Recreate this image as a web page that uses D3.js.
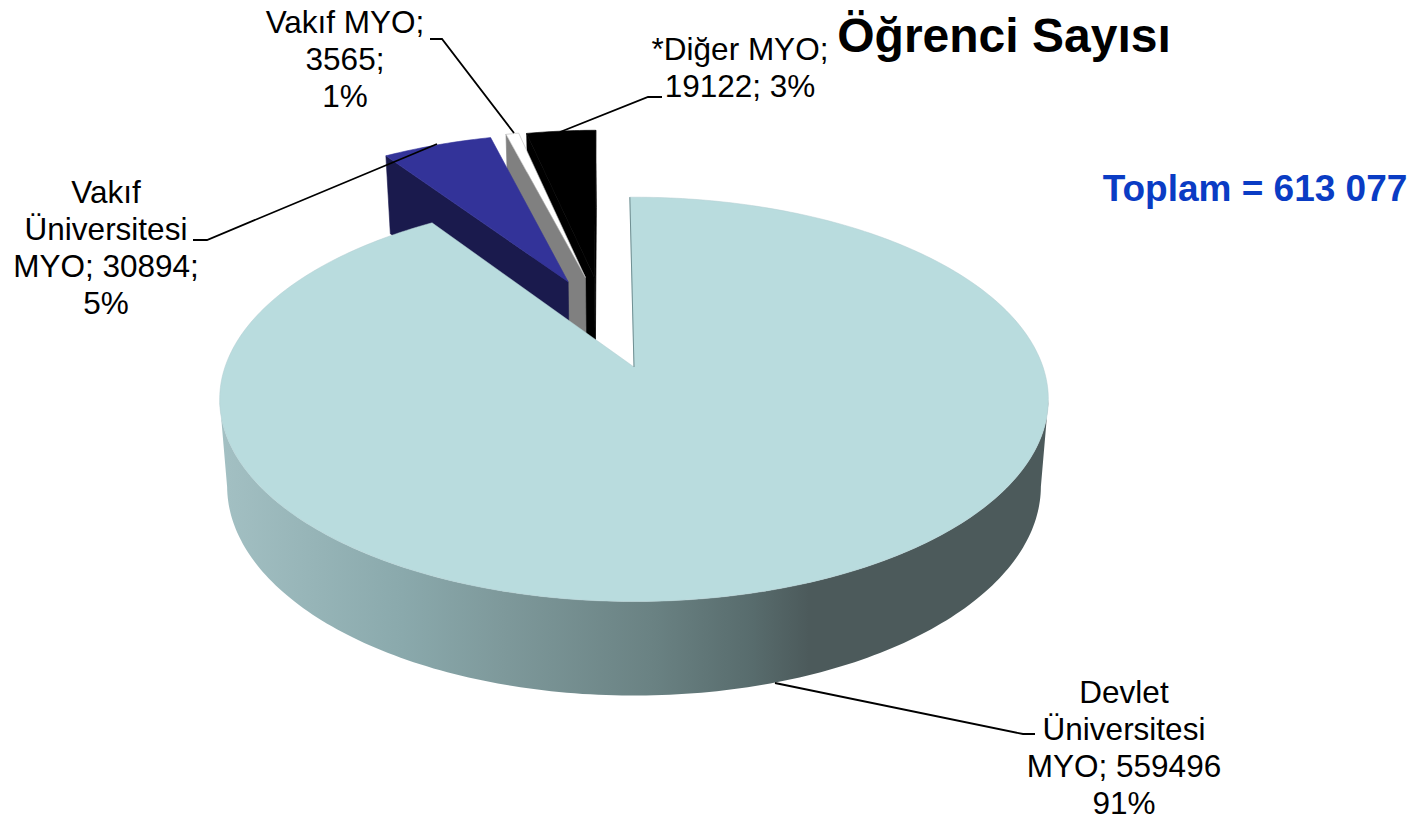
<!DOCTYPE html>
<html>
<head>
<meta charset="utf-8">
<script src="https://cdnjs.cloudflare.com/ajax/libs/d3/7.8.5/d3.min.js"></script>
<style>
  html, body { margin: 0; padding: 0; background: #fff; }
  text { font-family: "Liberation Sans", Arial, sans-serif; }
</style>
</head>
<body>
<div id="chart"></div>
<script>
// values
var categories = ["Devlet Üniversitesi MYO", "Vakıf Üniversitesi MYO", "Vakıf MYO", "*Diğer MYO"];
var students = [559496, 30894, 3565, 19122];
var sliceColors = ["#b9dcde", "#333399", "#ffffff", "#000000"];
var wallColors = ["#4d5c5d", "#1a1a4d", "#808080", "#000000"];
var labelLines = [
  ["Devlet", "Üniversitesi", "MYO; 559496", "91%"],
  ["Vakıf", "Üniversitesi", "MYO; 30894;", "5%"],
  ["Vakıf MYO;", "3565;", "1%"],
  ["*Diğer MYO;", "19122; 3%"]
];

var width = 1421, height = 821;

// disc coordinates -> screen, with a bit of perspective
var apex = [634, 367],
    rx = 409, ry = 197,
    persp = 0.16,
    wallDrop = 85.6, wallSx = 0.982, wallSy = 1.036;

var x = d3.scaleLinear().domain([-1, 1]).range([apex[0] - rx, apex[0] + rx]);
var y = d3.scaleLinear().domain([-1, 1]).range([apex[1] - ry, apex[1] + ry]);

function upper(u, v) {
  var w = 1 - persp * v;
  return [x(u / w), y(v / w)];
}
function lower(u, v) {
  var p = upper(u, v);
  return [apex[0] + (p[0] - apex[0]) * wallSx, apex[1] + wallDrop + (p[1] - apex[1]) * wallSy];
}
// explode offset of each slice in disc units
var offsets = [[0, 0], [-0.173, -0.465], [-0.128, -0.49], [-0.104, -0.488]];

var pie = d3.pie().sort(null).startAngle(-0.011).endAngle(2 * Math.PI - 0.011);
var arcs = pie(students);
arcs.forEach(function(d) {
  // the 3d view squeezes angles a little towards the back
  d.a0 = d.startAngle + 0.037 * Math.sin(2 * d.startAngle);
  d.a1 = d.endAngle + 0.037 * Math.sin(2 * d.endAngle);
});

function rim(a, o, fn) {
  return fn(Math.sin(a) + o[0], -Math.cos(a) + o[1]);
}
function arcPoints(a0, a1, o, fn) {
  var n = Math.max(2, Math.ceil((a1 - a0) * 60));
  return d3.range(n + 1).map(function(i) { return rim(a0 + (a1 - a0) * i / n, o, fn); });
}

var line = d3.line();

var svg = d3.select("#chart").append("svg")
    .attr("width", width)
    .attr("height", height)
    .style("display", "block");

// outer wall of the big slice
var grad = svg.append("defs").append("linearGradient")
    .attr("id", "wallGrad")
    .attr("gradientUnits", "userSpaceOnUse")
    .attr("x1", 220).attr("x2", 1050).attr("y1", 0).attr("y2", 0);
[[0, "#a3c0c3"], [0.22, "#8aa9ac"], [0.34, "#7e999b"], [0.52, "#6a8283"], [0.64, "#586c6d"], [0.71, "#4c5a5b"], [1, "#4c5a5b"]].forEach(function(s) {
  grad.append("stop").attr("offset", s[0]).attr("stop-color", s[1]);
});

function edgeWall(a, o) {
  return [rim(a, o, upper), upper(o[0], o[1]), lower(o[0], o[1]), rim(a, o, lower)];
}

// far slices first, the big one goes on top
[3, 2, 1].forEach(function(i) {
  var d = arcs[i], o = offsets[i];
  // black shows both of its cut faces
  var walls = i === 3 ? [d.a1, d.a0] : [d.a0];
  walls.forEach(function(a) {
    svg.append("path")
        .attr("d", line(edgeWall(a, o)) + "Z")
        .attr("fill", wallColors[i])
        .attr("stroke", wallColors[i])
        .attr("stroke-width", 0.6);
  });
  svg.append("path")
      .attr("d", line([upper(o[0], o[1])].concat(arcPoints(d.a0, d.a1, o, upper))) + "Z")
      .attr("fill", sliceColors[i])
      .attr("stroke", i === 2 ? "#bbb" : sliceColors[i])
      .attr("stroke-width", 0.6);
});

// big slice: front wall then top face
var big = arcs[0];
var front = arcPoints(1.735, 4.548, [0, 0], upper).concat(arcPoints(1.735, 4.548, [0, 0], lower).reverse());
svg.append("path")
    .attr("d", line(front) + "Z")
    .attr("fill", "url(#wallGrad)");
svg.append("path")
    .attr("d", line([upper(0, 0)].concat(arcPoints(big.a0, big.a1, [0, 0], upper))) + "Z")
    .attr("fill", sliceColors[0])
    .attr("stroke", "#b0cdd0")
    .attr("stroke-width", 0.5);
svg.append("path")
    .attr("d", line([upper(0, 0), rim(big.a0, [0, 0], upper)]))
    .attr("fill", "none")
    .attr("stroke", "#6f8f92")
    .attr("stroke-width", 1);

// leader lines
var leaders = [
  [[775, 683], [1023, 734], [1035, 734]],
  [[437, 144], [207, 240], [193, 240]],
  [[514, 133], [442, 39], [430, 39]],
  [[560, 132], [648, 97], [662, 97]]
];
svg.selectAll("path.leader")
    .data(leaders)
  .enter().append("path")
    .attr("class", "leader")
    .attr("d", function(d) { return line(d); })
    .attr("fill", "none")
    .attr("stroke", "#000")
    .attr("stroke-width", 1.8);

// data labels
var labelAnchor = [[1124, 703], [106, 203], [345, 33], [740, 60]];
var labelStep = 37;
var labels = svg.selectAll("text.label")
    .data(labelLines)
  .enter().append("text")
    .attr("class", "label")
    .attr("text-anchor", "middle")
    .attr("font-size", 31.5)
    .attr("fill", "#000");
labels.each(function(d, i) {
  d3.select(this).selectAll("tspan")
      .data(d)
    .enter().append("tspan")
      .attr("x", labelAnchor[i][0])
      .attr("y", function(t, j) { return labelAnchor[i][1] + j * labelStep; })
      .text(function(t) { return t; });
});

svg.append("text")
    .attr("x", 1004).attr("y", 52)
    .attr("text-anchor", "middle")
    .attr("font-size", 48)
    .attr("font-weight", "bold")
    .text("Öğrenci Sayısı");

svg.append("text")
    .attr("x", 1255).attr("y", 201)
    .attr("text-anchor", "middle")
    .attr("font-size", 37)
    .attr("font-weight", "bold")
    .attr("fill", "#0a3cc4")
    .text("Toplam = 613 077");
</script>
</body>
</html>
